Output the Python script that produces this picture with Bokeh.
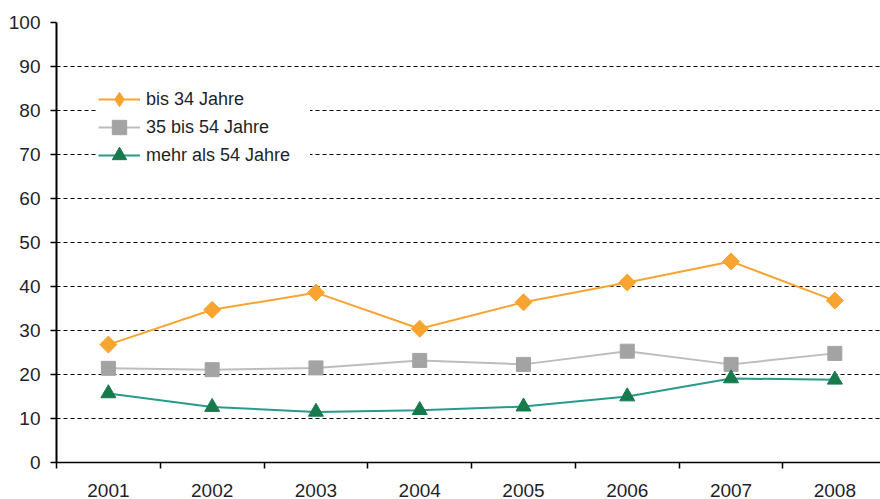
import math
from bokeh.plotting import figure
from bokeh.models import Range1d, FixedTicker, Legend, LegendItem
from bokeh.embed import file_html
from bokeh.resources import INLINE

years = [2001, 2002, 2003, 2004, 2005, 2006, 2007, 2008]
bis34 = [26.8, 34.7, 38.6, 30.4, 36.4, 40.9, 45.7, 36.8]
von35bis54 = [21.4, 21.1, 21.5, 23.2, 22.3, 25.3, 22.3, 24.8]
ueber54 = [15.7, 12.6, 11.5, 11.9, 12.7, 15.0, 19.1, 18.8]
series_names = ["bis 34 Jahre", "35 bis 54 Jahre", "mehr als 54 Jahre"]
y_ticks = list(range(0, 101, 10))

FONT = "Liberation Sans"
TEXT = "#1f1f2a"
ORANGE = "#F7A431"
GRAY_M = "#A3A3A3"
GRAY_L = "#BDBDBD"
TEAL = "#2A9A8C"
GREEN = "#177A4C"

p = figure(width=880, height=499, output_backend="svg", toolbar_location=None,
           x_range=Range1d(years[0] - 0.5, years[-1] + 0.44), y_range=Range1d(0, 100),
           min_border_left=56, min_border_top=22, min_border_right=0, min_border_bottom=37)
p.outline_line_color = None
p.background_fill_color = "white"
p.border_fill_color = "white"

# grid
p.xgrid.grid_line_color = None
p.ygrid.ticker = FixedTicker(ticks=y_ticks)
p.ygrid.grid_line_color = "black"
p.ygrid.grid_line_width = 1
p.ygrid.grid_line_dash = "4 3"

# x axis
xa = p.xaxis[0]
xa.ticker = FixedTicker(ticks=years, minor_ticks=[y - 0.5 for y in years])
xa.major_tick_out = 0
xa.major_tick_in = 0
xa.minor_tick_out = 6
xa.minor_tick_in = 0
xa.minor_tick_line_color = "black"
xa.minor_tick_line_width = 1.5
xa.axis_line_color = "black"
xa.axis_line_width = 1.5
xa.major_label_standoff = 15
xa.major_label_text_font = FONT
xa.major_label_text_font_size = "19px"
xa.major_label_text_color = TEXT

# y axis
ya = p.yaxis[0]
ya.ticker = FixedTicker(ticks=y_ticks)
ya.major_tick_out = 6
ya.major_tick_in = 0
ya.minor_tick_out = 0
ya.minor_tick_in = 0
ya.major_tick_line_color = "black"
ya.major_tick_line_width = 1.5
ya.axis_line_color = "black"
ya.axis_line_width = 2
ya.major_label_standoff = 10
ya.major_label_text_font = FONT
ya.major_label_text_font_size = "19px"
ya.major_label_text_color = TEXT

# series
l1 = p.line(years, bis34, line_color=ORANGE, line_width=2)
m1 = p.scatter(years, bis34, marker="square", angle=math.pi / 4, size=12,
               fill_color=ORANGE, line_color=ORANGE)
l2 = p.line(years, von35bis54, line_color=GRAY_L, line_width=2)
m2 = p.scatter(years, von35bis54, marker="square", size=14,
               fill_color=GRAY_M, line_color=GRAY_M)
l3 = p.line(years, ueber54, line_color=TEAL, line_width=2)
m3 = p.scatter(years, ueber54, marker="triangle", size=15,
               fill_color=GREEN, line_color=GREEN)

# hidden diamond renderer used only as the legend sample (legend samples are drawn unrotated)
d1 = p.scatter(years, bis34, marker="diamond", size=15,
               fill_color=ORANGE, line_color=ORANGE, visible=False)

# one legend per row so rows can sit closer than the sample height
rows = [(series_names[0], [l1, d1]), (series_names[1], [l2, m2]), (series_names[2], [l3, m3])]
for i, (name, rends) in enumerate(rows):
    lg = Legend(items=[LegendItem(label=name, renderers=rends)],
                location=(42, 345 - 28 * i))
    lg.click_policy = "none"
    lg.border_line_color = None
    lg.background_fill_color = "white"
    lg.background_fill_alpha = 1
    lg.padding = 0
    lg.margin = 0
    lg.spacing = 0
    lg.glyph_width = 42
    lg.glyph_height = 36
    lg.label_standoff = 6
    lg.label_width = 164
    lg.label_text_font = FONT
    lg.label_text_font_size = "18px"
    lg.label_text_color = TEXT
    p.add_layout(lg, "center")

open("out.html", "w").write(file_html(p, INLINE))
